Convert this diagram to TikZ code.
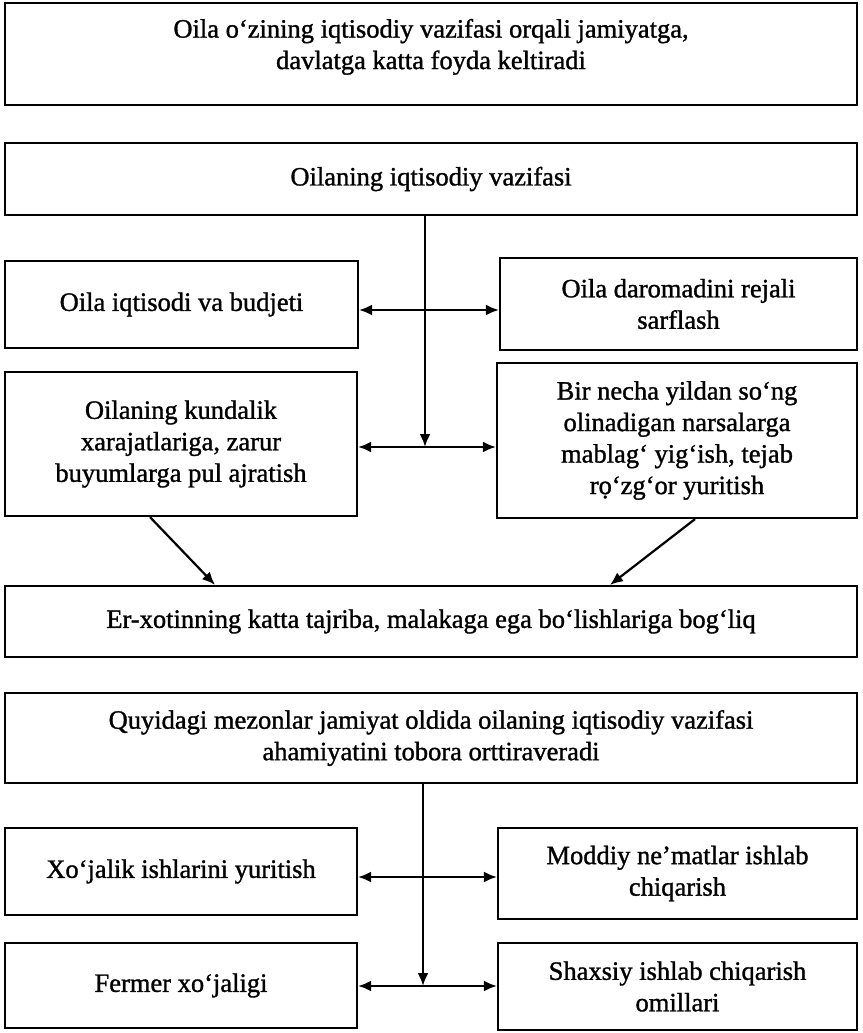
\documentclass[tikz,border=0pt]{standalone}
\usepackage{fontspec}
\setmainfont{Liberation Serif}
\newfontfamily\heavyfont{Liberation Serif}[FakeBold=1.2]
\usetikzlibrary{arrows.meta}
\tikzset{
  box/.style={draw, line width=2.2pt, inner sep=0pt, align=center,
    font=\heavyfont\fontsize{26.5}{31.5}\selectfont},
  conn/.style={line width=2.2pt},
  tip/.style={-{Latex[length=13pt,width=11pt]}},
  dtip/.style={{Latex[length=13pt,width=11pt]}-{Latex[length=13pt,width=11pt]}}
}
\begin{document}
\begin{tikzpicture}[x=1pt,y=-1pt]
\useasboundingbox (0,0) rectangle (862,1033);
\node[box, minimum width=852pt, minimum height=102pt] (b1) at (431,54)
  {Oila o‘zining iqtisodiy vazifasi orqali jamiyatga,\\davlatga katta foyda keltiradi\rule[-20pt]{0pt}{0pt}};
\node[box, minimum width=852pt, minimum height=72pt] (b2) at (431,179)
  {Oilaning iqtisodiy vazifasi};
\node[box, minimum width=353pt, minimum height=87pt] (b3) at (181.5,304.5)
  {Oila iqtisodi va budjeti};
\node[box, minimum width=357pt, minimum height=92pt] (b4) at (678.5,304)
  {Oila daromadini rejali\\sarflash};
\node[box, minimum width=352pt, minimum height=144pt] (b5) at (181,444)
  {Oilaning kundalik\\xarajatlariga, zarur\\buyumlarga pul ajratish};
\node[box, minimum width=360pt, minimum height=155pt] (b6) at (677,440.5)
  {Bir necha yildan so‘ng\\olinadigan narsalarga\\mablag‘ yig‘ish, tejab\\rọ‘zg‘or yuritish};
\node[box, minimum width=852pt, minimum height=71pt] (b7) at (431,621.5)
  {Er-xotinning katta tajriba, malakaga ega bo‘lishlariga bog‘liq};
\node[box, minimum width=852pt, minimum height=90pt] (b8) at (431,738)
  {Quyidagi mezonlar jamiyat oldida oilaning iqtisodiy vazifasi\\ahamiyatini tobora orttiraveradi};
\node[box, minimum width=352pt, minimum height=87pt] (b9) at (181,871.5)
  {Xo‘jalik ishlarini yuritish};
\node[box, minimum width=359pt, minimum height=91pt] (b10) at (677.5,873.5)
  {Moddiy ne’matlar ishlab\\chiqarish};
\node[box, minimum width=352pt, minimum height=85pt] (b11) at (181,985.5)
  {Fermer xo‘jaligi};
\node[box, minimum width=359pt, minimum height=87pt] (b12) at (677.5,986.5)
  {Shaxsiy ishlab chiqarish\\omillari};
% upper junctions
\coordinate (ua) at (425,310);
\coordinate (ub) at (425,447);
\draw[conn] (b2.south -| ua) -- (ua);
\draw[conn, tip] (ua) -- (ub);
\draw[conn, dtip] (b3.east |- ua) -- (b4.west |- ua);
\draw[conn, dtip] (b5.east |- ub) -- (b6.west |- ub);
\draw[conn, tip] ([xshift=-31pt]b5.south) -- ([xshift=-216pt]b7.north);
\draw[conn, tip] ([xshift=18pt]b6.south) -- ([xshift=179pt]b7.north);
% lower junctions
\coordinate (la) at (423,877);
\coordinate (lb) at (423,986);
\draw[conn] (b8.south -| la) -- (la);
\draw[conn, tip] (la) -- (lb);
\draw[conn, dtip] (b9.east |- la) -- (b10.west |- la);
\draw[conn, dtip] (b11.east |- lb) -- (b12.west |- lb);
\end{tikzpicture}
\end{document}
